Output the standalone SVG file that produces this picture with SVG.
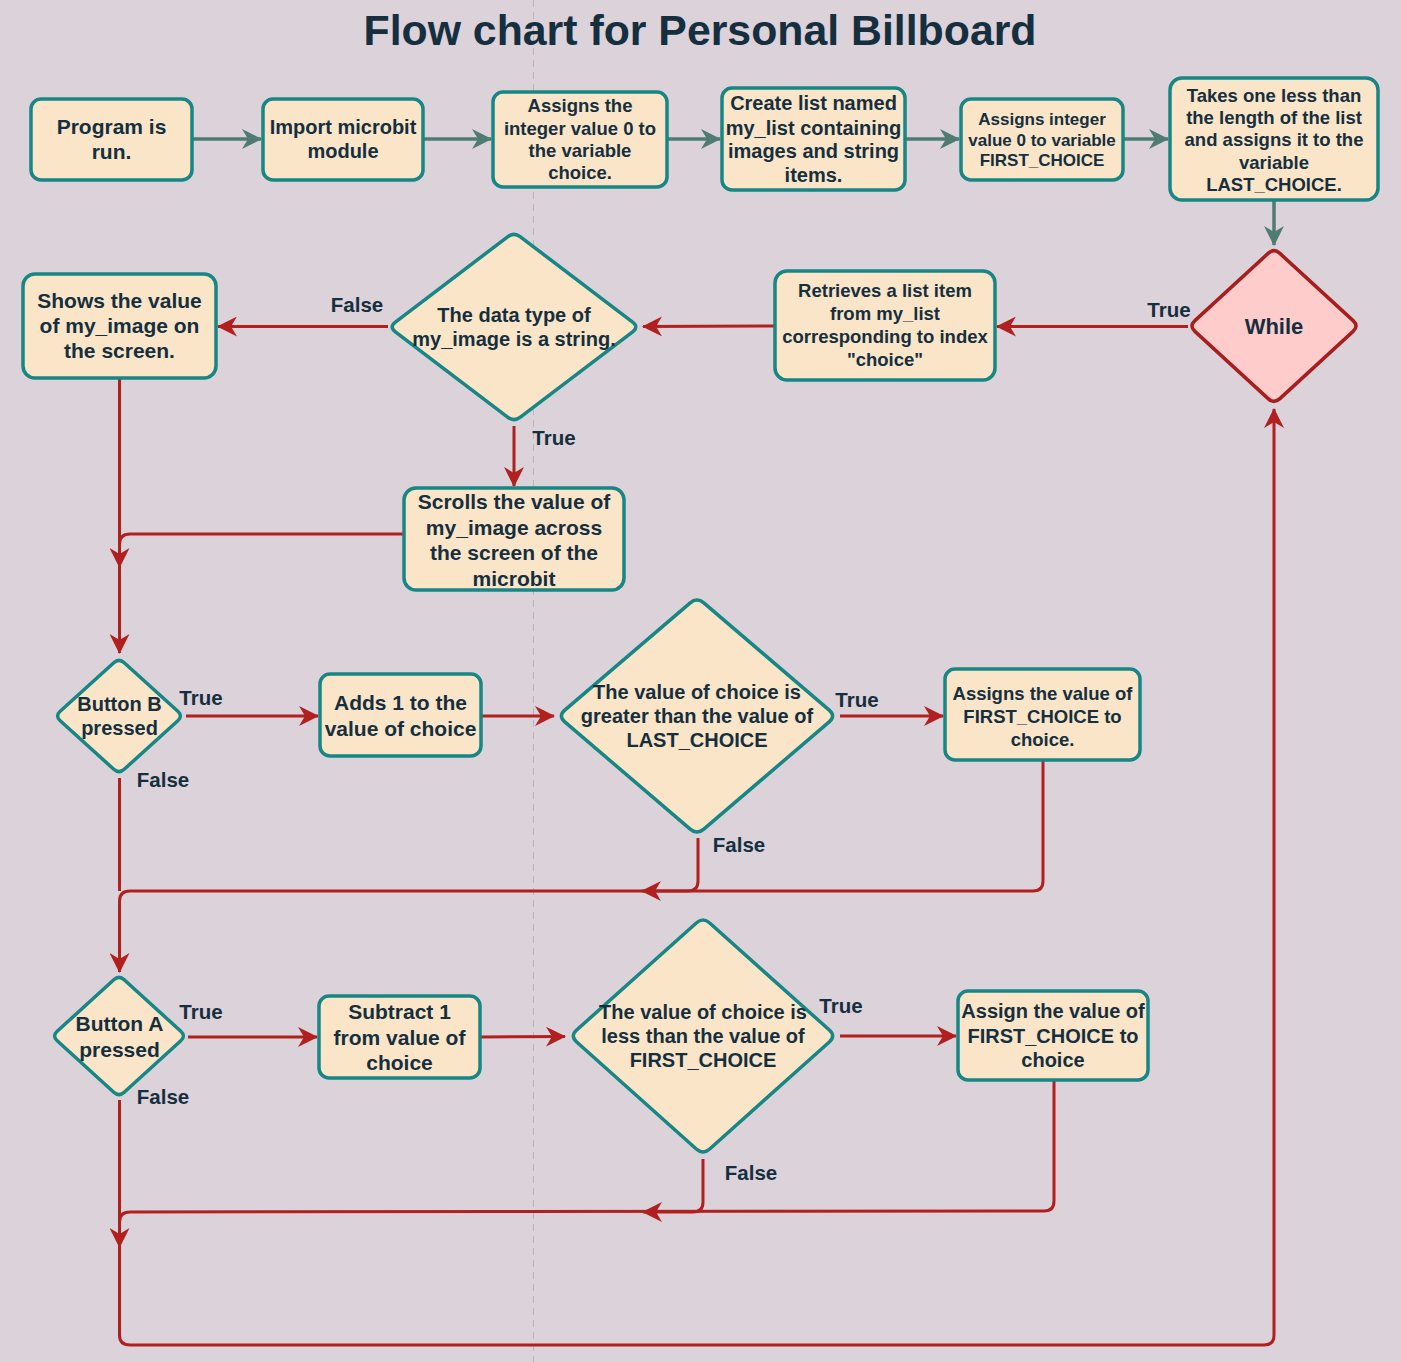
<svg xmlns="http://www.w3.org/2000/svg" width="1401" height="1362" viewBox="0 0 1401 1362">
<style>
  .bg{fill:#dcd2da}
  .box{fill:#fbe5c8;stroke:#178684;stroke-width:3.5}
  .whl{fill:#ffcccc;stroke:#a61e1e;stroke-width:3.5}
  text{font-family:"Liberation Sans",Arial,sans-serif;font-weight:bold;fill:#152f3e;text-anchor:middle}
  .g{fill:none;stroke:#4e7b72;stroke-width:3.5}
  .r{fill:none;stroke:#b0201f;stroke-width:3;stroke-linejoin:round}
  .lbl{font-size:20.5px}
</style>
<defs>
  <marker id="ag" markerUnits="userSpaceOnUse" markerWidth="20" markerHeight="20" viewBox="0 0 20 20" refX="19" refY="10" orient="auto">
    <path d="M0,0 L20,10 L0,20 L6,10 Z" fill="#4e7b72"/>
  </marker>
  <marker id="ar" markerUnits="userSpaceOnUse" markerWidth="20" markerHeight="20" viewBox="0 0 20 20" refX="19" refY="10" orient="auto">
    <path d="M0,0 L20,10 L0,20 L6,10 Z" fill="#b0201f"/>
  </marker>
</defs>
<rect class="bg" x="0" y="0" width="1401" height="1362"/>
<line x1="533.5" y1="0" x2="533.5" y2="1362" stroke="#bcb4bc" stroke-width="1" stroke-dasharray="7 5"/>
<text x="700" y="45" style="font-size:42.8px">Flow chart for Personal Billboard</text>

<g id="connectors">
  <path class="g" d="M192,139 L261,139" marker-end="url(#ag)"/>
  <path class="g" d="M423,139 L491,139" marker-end="url(#ag)"/>
  <path class="g" d="M667,139 L720,139" marker-end="url(#ag)"/>
  <path class="g" d="M905,139 L959,139" marker-end="url(#ag)"/>
  <path class="g" d="M1124,139 L1168,139" marker-end="url(#ag)"/>
  <path class="g" d="M1274,201 L1274,245" marker-end="url(#ag)"/>

  <path class="r" d="M1188,326.5 L997,326.5" marker-end="url(#ar)"/>
  <path class="r" d="M774,326 L643,326.5" marker-end="url(#ar)"/>
  <path class="r" d="M388,326.5 L218,326.5" marker-end="url(#ar)"/>
  <path class="r" d="M514,426 L514,486" marker-end="url(#ar)"/>
  <path class="r" d="M119.5,379 L119.5,653" marker-end="url(#ar)"/>
  <path class="r" d="M403,534 L130,534 Q119.5,534 119.5,544 L119.5,567" marker-end="url(#ar)"/>

  <path class="r" d="M186,716 L318,716" marker-end="url(#ar)"/>
  <path class="r" d="M482,716 L554,716" marker-end="url(#ar)"/>
  <path class="r" d="M840,716 L943,716" marker-end="url(#ar)"/>
  <path class="r" d="M1043,761 L1043,881 Q1043,891 1033,891 L130,891 Q119.5,891 119.5,901 L119.5,972" marker-end="url(#ar)"/>
  <path class="r" d="M698,838 L698,881 Q698,891 688,891 L642,891" marker-end="url(#ar)"/>
  <path class="r" d="M119.5,778 L119.5,891"/>

  <path class="r" d="M188,1037 L317,1037" marker-end="url(#ar)"/>
  <path class="r" d="M481,1037 L565,1036.5" marker-end="url(#ar)"/>
  <path class="r" d="M840,1036 L956,1036" marker-end="url(#ar)"/>
  <path class="r" d="M1054,1081 L1054,1201 Q1054,1211 1044,1211 L130,1212 Q119.5,1212 119.5,1222 L119.5,1247" marker-end="url(#ar)"/>
  <path class="r" d="M703,1159 L703,1202 Q703,1212 693,1212 L643,1212" marker-end="url(#ar)"/>
  <path class="r" d="M119.5,1100 L119.5,1335 Q119.5,1345 130,1345 L1264,1345 Q1274,1345 1274,1335 L1274,409" marker-end="url(#ar)"/>

  <text class="lbl" x="357" y="312">False</text>
  <text class="lbl" x="554" y="445">True</text>
  <text class="lbl" x="1169" y="317">True</text>
  <text class="lbl" x="201" y="705">True</text>
  <text class="lbl" x="163" y="787">False</text>
  <text class="lbl" x="857" y="707">True</text>
  <text class="lbl" x="739" y="852">False</text>
  <text class="lbl" x="201" y="1019">True</text>
  <text class="lbl" x="163" y="1104">False</text>
  <text class="lbl" x="841" y="1013">True</text>
  <text class="lbl" x="751" y="1180">False</text>
</g>

<g id="n-program">
  <rect class="box" x="31" y="99" width="161" height="81" rx="10"/>
  <text x="111.5" style="font-size:21px"><tspan x="111.5" y="134">Program is</tspan><tspan x="111.5" y="159">run.</tspan></text>
</g>
<g id="n-import">
  <rect class="box" x="263" y="99" width="160" height="81" rx="10"/>
  <text style="font-size:20px"><tspan x="343" y="134">Import microbit</tspan><tspan x="343" y="158">module</tspan></text>
</g>
<g id="n-choice">
  <rect class="box" x="493" y="92" width="174" height="95" rx="10"/>
  <text style="font-size:18.5px"><tspan x="580" y="112">Assigns the</tspan><tspan x="580" y="135">integer value 0 to</tspan><tspan x="580" y="157">the variable</tspan><tspan x="580" y="179">choice.</tspan></text>
</g>
<g id="n-list">
  <rect class="box" x="722" y="88" width="183" height="102" rx="10"/>
  <text style="font-size:20px"><tspan x="813.5" y="110">Create list named</tspan><tspan x="813.5" y="135">my_list containing</tspan><tspan x="813.5" y="158">images and string</tspan><tspan x="813.5" y="182">items.</tspan></text>
</g>
<g id="n-first">
  <rect class="box" x="961" y="99" width="162" height="81" rx="10"/>
  <text style="font-size:17px"><tspan x="1042" y="125">Assigns integer</tspan><tspan x="1042" y="146">value 0 to variable</tspan><tspan x="1042" y="166">FIRST_CHOICE</tspan></text>
</g>
<g id="n-last">
  <rect class="box" x="1170" y="78" width="208" height="122" rx="12"/>
  <text style="font-size:18.5px"><tspan x="1274" y="102">Takes one less than</tspan><tspan x="1274" y="124">the length of the list</tspan><tspan x="1274" y="146">and assigns it to the</tspan><tspan x="1274" y="169">variable</tspan><tspan x="1274" y="191">LAST_CHOICE.</tspan></text>
</g>
<g id="n-while">
  <path class="whl" d="M1268.1,253.4 Q1274,248 1279.9,253.4 L1353.1,320.6 Q1359,326 1353.1,331.4 L1279.9,398.6 Q1274,404 1268.1,398.6 L1194.9,331.4 Q1189,326 1194.9,320.6 Z"/>
  <text x="1274" y="334" style="font-size:22px">While</text>
</g>
<g id="n-retrieve">
  <rect class="box" x="775" y="271" width="220" height="109" rx="12"/>
  <text style="font-size:18.5px"><tspan x="885" y="297">Retrieves a list item</tspan><tspan x="885" y="320">from my_list</tspan><tspan x="885" y="343">corresponding to index</tspan><tspan x="885" y="366">"choice"</tspan></text>
</g>
<g id="n-datatype">
  <path class="box" d="M507.6,236.8 Q514,232 520.4,236.8 L632.6,322.2 Q639,327 632.6,331.8 L520.4,417.2 Q514,422 507.6,417.2 L395.4,331.8 Q389,327 395.4,322.2 Z"/>
  <text style="font-size:20px"><tspan x="514" y="322">The data type of</tspan><tspan x="514" y="346">my_image is a string.</tspan></text>
</g>
<g id="n-shows">
  <rect class="box" x="23" y="274" width="193" height="104" rx="12"/>
  <text style="font-size:21px"><tspan x="119.5" y="308">Shows the value</tspan><tspan x="119.5" y="333">of my_image on</tspan><tspan x="119.5" y="358">the screen.</tspan></text>
</g>
<g id="n-scrolls">
  <rect class="box" x="404" y="488" width="220" height="102" rx="12"/>
  <text style="font-size:21px"><tspan x="514" y="509">Scrolls the value of</tspan><tspan x="514" y="535">my_image across</tspan><tspan x="514" y="560">the screen of the</tspan><tspan x="514" y="586">microbit</tspan></text>
</g>
<g id="n-buttonb">
  <path class="box" d="M113.8,662.7 Q119,658 124.2,662.7 L177.8,711.3 Q183,716 177.8,720.7 L124.2,769.3 Q119,774 113.8,769.3 L60.2,720.7 Q55,716 60.2,711.3 Z"/>
  <text style="font-size:20px"><tspan x="119.5" y="711">Button B</tspan><tspan x="119.5" y="735">pressed</tspan></text>
</g>
<g id="n-adds">
  <rect class="box" x="320" y="674" width="161" height="82" rx="10"/>
  <text style="font-size:21px"><tspan x="400.5" y="710">Adds 1 to the</tspan><tspan x="400.5" y="736">value of choice</tspan></text>
</g>
<g id="n-greater">
  <path class="box" d="M690.2,602.9 Q697,597 703.8,602.9 L829.2,710.1 Q836,716 829.2,721.9 L703.8,829.1 Q697,835 690.2,829.1 L564.8,721.9 Q558,716 564.8,710.1 Z"/>
  <text style="font-size:20px"><tspan x="697" y="699">The value of choice is</tspan><tspan x="697" y="723">greater than the value of</tspan><tspan x="697" y="747">LAST_CHOICE</tspan></text>
</g>
<g id="n-assignsfirst">
  <rect class="box" x="945" y="669" width="195" height="91" rx="10"/>
  <text style="font-size:18.5px"><tspan x="1042.5" y="700">Assigns the value of</tspan><tspan x="1042.5" y="723">FIRST_CHOICE to</tspan><tspan x="1042.5" y="746">choice.</tspan></text>
</g>
<g id="n-buttona">
  <path class="box" d="M113.8,979.7 Q119,975 124.2,979.7 L180.8,1031.3 Q186,1036 180.8,1040.7 L124.2,1092.3 Q119,1097 113.8,1092.3 L57.2,1040.7 Q52,1036 57.2,1031.3 Z"/>
  <text style="font-size:21px"><tspan x="119.5" y="1031">Button A</tspan><tspan x="119.5" y="1057">pressed</tspan></text>
</g>
<g id="n-subtract">
  <rect class="box" x="319" y="996" width="161" height="82" rx="10"/>
  <text style="font-size:21px"><tspan x="399.5" y="1019">Subtract 1</tspan><tspan x="399.5" y="1045">from value of</tspan><tspan x="399.5" y="1070">choice</tspan></text>
</g>
<g id="n-less">
  <path class="box" d="M696.3,923 Q703,917 709.7,923 L829.3,1030 Q836,1036 829.3,1042 L709.7,1149 Q703,1155 696.3,1149 L576.7,1042 Q570,1036 576.7,1030 Z"/>
  <text style="font-size:20px"><tspan x="703" y="1019">The value of choice is</tspan><tspan x="703" y="1043">less than the value of</tspan><tspan x="703" y="1067">FIRST_CHOICE</tspan></text>
</g>
<g id="n-assign">
  <rect class="box" x="958" y="991" width="190" height="89" rx="10"/>
  <text style="font-size:20px"><tspan x="1053" y="1018">Assign the value of</tspan><tspan x="1053" y="1043">FIRST_CHOICE to</tspan><tspan x="1053" y="1067">choice</tspan></text>
</g>
</svg>
